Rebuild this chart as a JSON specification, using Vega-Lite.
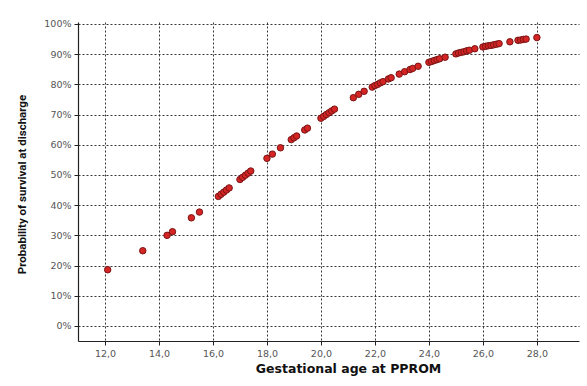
{
  "$schema": "https://vega.github.io/schema/vega-lite/v6.json",
  "width": 501,
  "height": 319,
  "autosize": {"type": "none"},
  "padding": {"left": 78, "top": 22, "right": 8, "bottom": 45},
  "background": "white",
  "config": {"view": {"stroke": null}},
  "data": {"values": [
    {"ga": 12.1, "p": 0.186},
    {"ga": 13.4, "p": 0.249},
    {"ga": 14.3, "p": 0.300},
    {"ga": 14.5, "p": 0.312},
    {"ga": 15.2, "p": 0.358},
    {"ga": 15.5, "p": 0.377},
    {"ga": 16.2, "p": 0.429},
    {"ga": 16.3, "p": 0.436},
    {"ga": 16.4, "p": 0.443},
    {"ga": 16.5, "p": 0.450},
    {"ga": 16.6, "p": 0.457},
    {"ga": 17.0, "p": 0.485},
    {"ga": 17.1, "p": 0.492},
    {"ga": 17.2, "p": 0.499},
    {"ga": 17.3, "p": 0.506},
    {"ga": 17.4, "p": 0.513},
    {"ga": 18.0, "p": 0.555},
    {"ga": 18.2, "p": 0.569},
    {"ga": 18.5, "p": 0.590},
    {"ga": 18.9, "p": 0.617},
    {"ga": 19.0, "p": 0.623},
    {"ga": 19.1, "p": 0.629},
    {"ga": 19.4, "p": 0.649},
    {"ga": 19.5, "p": 0.655},
    {"ga": 20.0, "p": 0.688},
    {"ga": 20.1, "p": 0.694},
    {"ga": 20.2, "p": 0.700},
    {"ga": 20.3, "p": 0.706},
    {"ga": 20.4, "p": 0.712},
    {"ga": 20.5, "p": 0.718},
    {"ga": 21.2, "p": 0.756},
    {"ga": 21.4, "p": 0.767},
    {"ga": 21.6, "p": 0.777},
    {"ga": 21.9, "p": 0.791},
    {"ga": 22.0, "p": 0.796},
    {"ga": 22.1, "p": 0.800},
    {"ga": 22.2, "p": 0.805},
    {"ga": 22.3, "p": 0.809},
    {"ga": 22.5, "p": 0.818},
    {"ga": 22.6, "p": 0.822},
    {"ga": 22.9, "p": 0.834},
    {"ga": 23.1, "p": 0.842},
    {"ga": 23.3, "p": 0.849},
    {"ga": 23.4, "p": 0.853},
    {"ga": 23.6, "p": 0.860},
    {"ga": 24.0, "p": 0.873},
    {"ga": 24.1, "p": 0.876},
    {"ga": 24.2, "p": 0.879},
    {"ga": 24.3, "p": 0.882},
    {"ga": 24.4, "p": 0.885},
    {"ga": 24.6, "p": 0.890},
    {"ga": 25.0, "p": 0.901},
    {"ga": 25.1, "p": 0.904},
    {"ga": 25.2, "p": 0.906},
    {"ga": 25.3, "p": 0.908},
    {"ga": 25.4, "p": 0.911},
    {"ga": 25.5, "p": 0.913},
    {"ga": 25.7, "p": 0.918},
    {"ga": 26.0, "p": 0.924},
    {"ga": 26.1, "p": 0.926},
    {"ga": 26.2, "p": 0.928},
    {"ga": 26.3, "p": 0.929},
    {"ga": 26.4, "p": 0.931},
    {"ga": 26.5, "p": 0.933},
    {"ga": 26.6, "p": 0.935},
    {"ga": 27.0, "p": 0.941},
    {"ga": 27.3, "p": 0.946},
    {"ga": 27.4, "p": 0.947},
    {"ga": 27.5, "p": 0.949},
    {"ga": 27.6, "p": 0.950},
    {"ga": 28.0, "p": 0.955}
  ]},
  "mark": {"type": "point", "filled": true, "fill": "#d42424", "stroke": "#7a1515", "strokeWidth": 1, "size": 42, "opacity": 1},
  "encoding": {
    "x": {
      "field": "ga", "type": "quantitative",
      "scale": {"domain": [11.0, 29.56], "nice": false, "zero": false},
      "axis": {
        "values": [12, 14, 16, 18, 20, 22, 24, 26, 28],
        "labelExpr": "replace(format(datum.value, '.1f'), '.', ',')",
        "title": "Gestational age at PPROM",
        "titleFont": "DejaVu Sans", "titleFontWeight": "bold", "titleFontSize": 12.5, "titleColor": "#111",
        "titleX": 270, "titleY": 27, "titleBaseline": "middle", "titleAlign": "center",
        "labelFont": "DejaVu Sans", "labelFontSize": 9.5, "labelColor": "#555", "labelPadding": 3,
        "domainColor": "#222", "domainWidth": 1.2,
        "tickColor": "#222", "tickSize": 4,
        "grid": true, "gridColor": "#222", "gridDash": [2, 2], "gridWidth": 1, "gridOpacity": 0.9
      }
    },
    "y": {
      "field": "p", "type": "quantitative",
      "scale": {"domain": [-0.05, 1.0066], "nice": false, "zero": false},
      "axis": {
        "values": [0, 0.1, 0.2, 0.3, 0.4, 0.5, 0.6, 0.7, 0.8, 0.9, 1.0],
        "format": ".0%",
        "title": "Probability of survival at discharge",
        "titleFont": "Roboto", "titleFontWeight": "bold", "titleFontSize": 11.5, "titleColor": "#111",
        "titleX": -56, "titleY": 162, "titleAngle": -90, "titleBaseline": "middle", "titleAlign": "center",
        "labelFont": "DejaVu Sans", "labelFontSize": 9.5, "labelColor": "#555", "labelPadding": 3,
        "domainColor": "#222", "domainWidth": 1.2,
        "tickColor": "#222", "tickSize": 4,
        "grid": true, "gridColor": "#222", "gridDash": [2, 2], "gridWidth": 1, "gridOpacity": 0.9
      }
    }
  }
}
